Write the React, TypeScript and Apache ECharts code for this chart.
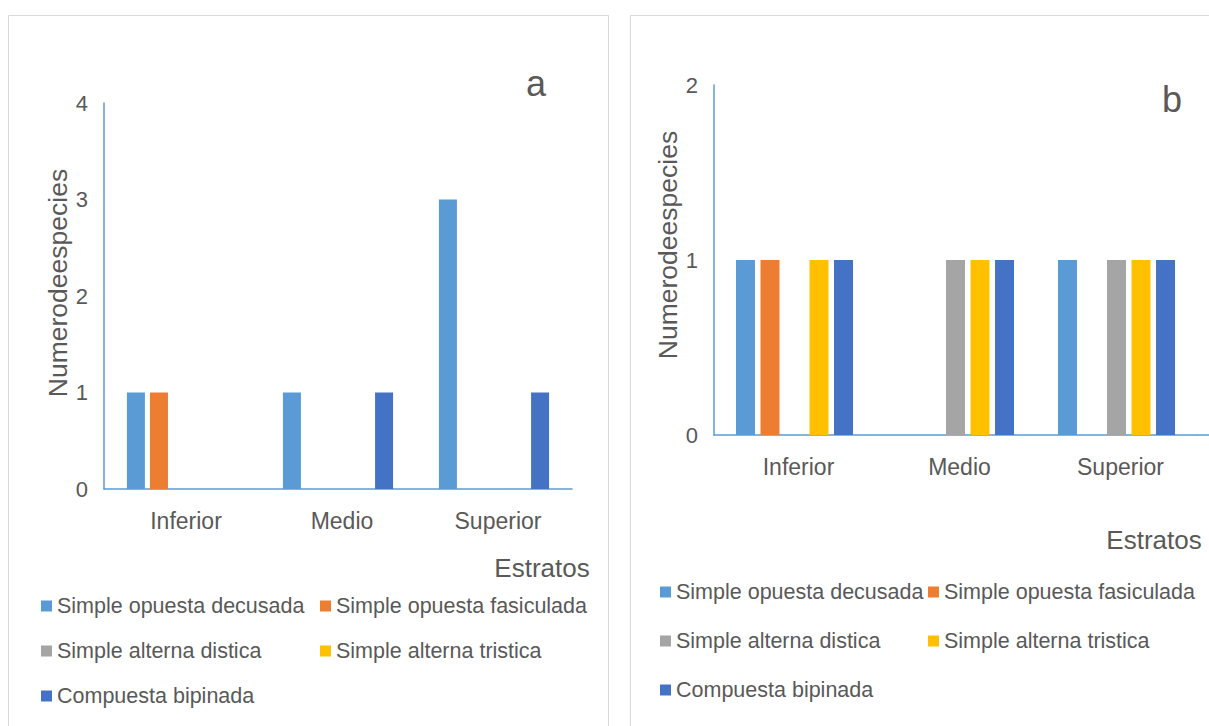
import React, { useEffect, useRef } from "react";
import * as echarts from "echarts";

const categories = ["Inferior", "Medio", "Superior"];
const seriesNames = [
  "Simple opuesta decusada",
  "Simple opuesta fasiculada",
  "Simple alterna distica",
  "Simple alterna tristica",
  "Compuesta bipinada",
];
const seriesColors = ["#5B9BD5", "#ED7D31", "#A5A5A5", "#FFC000", "#4472C4"];

// Panel a
const decusadaA = [1, 1, 3];
const fasiculadaA = [1, 0, 0];
const disticaA = [0, 0, 0];
const tristicaA = [0, 0, 0];
const bipinadaA = [0, 1, 1];

// Panel b
const decusadaB = [1, 0, 1];
const fasiculadaB = [1, 0, 0];
const disticaB = [0, 1, 1];
const tristicaB = [1, 1, 1];
const bipinadaB = [1, 1, 1];

const yTicksA = [0, 1, 2, 3, 4];
const yTicksB = [0, 1, 2];

const axisTitleY = "Numerodeespecies";
const axisTitleX = "Estratos";
const panelLabels = ["a", "b"];

const FONT = "'Liberation Sans', Arial, sans-serif";
const TXT = "#595959";
const AXIS = "#5B9BD5";

export default function App() {
  const ref = useRef<HTMLDivElement>(null);
  useEffect(() => {
    if (!ref.current) return;
    const chart = echarts.init(ref.current, null, { renderer: "svg" });
    const dataA = [decusadaA, fasiculadaA, disticaA, tristicaA, bipinadaA];
    const dataB = [decusadaB, fasiculadaB, disticaB, tristicaB, bipinadaB];

    const series: any[] = [];
    dataA.forEach((d, i) =>
      series.push({
        type: "bar",
        name: seriesNames[i],
        xAxisIndex: 0,
        yAxisIndex: 0,
        data: d,
        barWidth: 18,
        barGap: "28%",
        itemStyle: { color: seriesColors[i] },
      })
    );
    dataB.forEach((d, i) =>
      series.push({
        type: "bar",
        name: seriesNames[i],
        xAxisIndex: 1,
        yAxisIndex: 1,
        data: d,
        barWidth: 19,
        barGap: "29%",
        itemStyle: { color: seriesColors[i] },
      })
    );

    const legendPos = (positions: number[][]) =>
      seriesNames.map((n, i) => ({
        data: [n],
        left: positions[i][0],
        top: positions[i][1] - 12,
        padding: 0,
        itemWidth: 11,
        itemHeight: 11,
        icon: "rect",
        selectedMode: false,
        textStyle: { fontSize: 21.5, color: TXT, fontFamily: FONT, lineHeight: 24 },
      }));

    const legends = [
      ...legendPos([
        [41, 606],
        [320, 606],
        [41, 651],
        [320, 651],
        [41, 696],
      ]),
      ...legendPos([
        [660, 592],
        [928, 592],
        [660, 641],
        [928, 641],
        [660, 690],
      ]),
    ];

    const catAxis = (gridIndex: number) => ({
      type: "category",
      gridIndex,
      data: categories,
      axisLine: { show: true, lineStyle: { color: AXIS, width: 1.5 } },
      axisTick: { show: false },
      axisLabel: { color: TXT, fontSize: 23, fontFamily: FONT, margin: 20, padding: [0, 0, 0, 8] },
    });
    const valAxis = (gridIndex: number, ticks: number[]) => ({
      type: "value",
      gridIndex,
      min: ticks[0],
      max: ticks[ticks.length - 1],
      interval: 1,
      axisLine: { show: true, lineStyle: { color: AXIS, width: 1.5 } },
      axisTick: { show: false },
      splitLine: { show: false },
      axisLabel: { color: TXT, fontSize: 22, fontFamily: FONT, margin: 16 },
    });

    chart.setOption({
      animation: false,
      backgroundColor: "#ffffff",
      grid: [
        { left: 104, top: 103, width: 468, height: 386 },
        { left: 714, top: 85, width: 483, height: 350 },
      ],
      xAxis: [catAxis(0), catAxis(1)],
      yAxis: [valAxis(0, yTicksA), valAxis(1, yTicksB)],
      legend: legends,
      series,
      graphic: [
        {
          type: "rect",
          shape: { x: 8.5, y: 15.5, width: 600, height: 730 },
          style: { fill: "none", stroke: "#D9D9D9", lineWidth: 1 },
          silent: true,
        },
        {
          type: "rect",
          shape: { x: 630.5, y: 15.5, width: 600, height: 730 },
          style: { fill: "none", stroke: "#D9D9D9", lineWidth: 1 },
          silent: true,
        },
        {
          type: "line",
          shape: { x1: 1197, y1: 435, x2: 1209, y2: 435 },
          style: { stroke: AXIS, lineWidth: 1.5 },
          silent: true,
        },
        {
          type: "text",
          x: 536,
          y: 83,
          style: { text: panelLabels[0], fontSize: 36, fill: TXT, fontFamily: FONT, align: "center", verticalAlign: "middle" },
        },
        {
          type: "text",
          x: 1172,
          y: 99,
          style: { text: panelLabels[1], fontSize: 36, fill: TXT, fontFamily: FONT, align: "center", verticalAlign: "middle" },
        },
        {
          type: "text",
          x: 542,
          y: 568,
          style: { text: axisTitleX, fontSize: 26, fill: TXT, fontFamily: FONT, align: "center", verticalAlign: "middle" },
        },
        {
          type: "text",
          x: 1154,
          y: 540,
          style: { text: axisTitleX, fontSize: 26, fill: TXT, fontFamily: FONT, align: "center", verticalAlign: "middle" },
        },
        {
          type: "text",
          x: 58,
          y: 283,
          rotation: Math.PI / 2,
          style: { text: axisTitleY, fontSize: 26.5, fill: TXT, fontFamily: FONT, align: "center", verticalAlign: "middle" },
        },
        {
          type: "text",
          x: 668,
          y: 245,
          rotation: Math.PI / 2,
          style: { text: axisTitleY, fontSize: 26.5, fill: TXT, fontFamily: FONT, align: "center", verticalAlign: "middle" },
        },
      ],
    });
    return () => chart.dispose();
  }, []);
  return (
    <div
      ref={ref}
      style={{ position: "absolute", left: 0, top: 0, width: 1209, height: 726 }}
    />
  );
}
